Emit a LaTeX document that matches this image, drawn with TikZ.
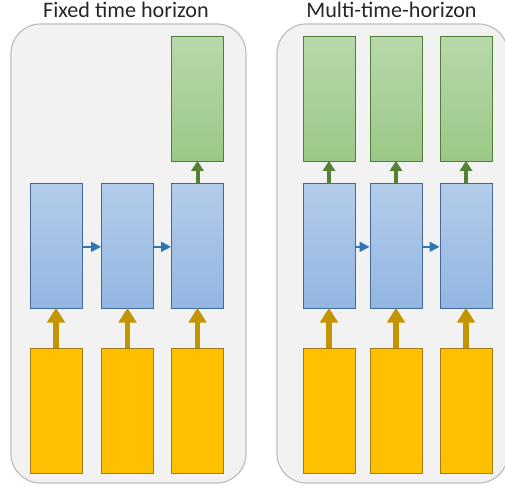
\documentclass[tikz,border=0pt]{standalone}
\usepackage{fontspec}
\setmainfont{Carlito}
\usetikzlibrary{arrows.meta}
\definecolor{panelfill}{HTML}{F2F2F2}
\definecolor{paneldraw}{HTML}{BFBFBF}
\definecolor{bluetop}{HTML}{B4CCEA}
\definecolor{bluebot}{HTML}{92B6E2}
\definecolor{bluedraw}{HTML}{41699A}
\definecolor{greentop}{HTML}{B8D8AA}
\definecolor{greenbot}{HTML}{9BC886}
\definecolor{greendraw}{HTML}{507E36}
\definecolor{orangefill}{HTML}{FFC000}
\definecolor{orangedraw}{HTML}{A37C1A}
\definecolor{orangearrow}{HTML}{C49500}
\definecolor{greenarrow}{HTML}{548235}
\definecolor{bluearrow}{HTML}{2E75B6}
\tikzset{
  panel/.style={draw=paneldraw, fill=panelfill, line width=0.9pt, rounded corners=22pt},
  cell/.style={inner sep=0pt, minimum width=39pt, minimum height=93.75pt, line width=0.75pt},
  bluecell/.style={cell, draw=bluedraw, top color=bluetop, bottom color=bluebot},
  greencell/.style={cell, draw=greendraw, top color=greentop, bottom color=greenbot},
  orangecell/.style={cell, draw=orangedraw, fill=orangefill},
  inarrow/.style={draw=orangearrow, line width=3.8pt, -{Triangle[width=13pt,length=11pt]}, shorten >=-0.5pt},
  outarrow/.style={draw=greenarrow, line width=3pt, -{Triangle[width=9pt,length=7.5pt]}, shorten >=-0.5pt},
  recarrow/.style={draw=bluearrow, line width=1.4pt, -{Triangle[width=7.5pt,length=7.5pt]}},
  title/.style={font=\fontsize{16.6pt}{19pt}\selectfont, text=black!85, anchor=base, inner sep=0pt}
}
\begin{document}
\begin{tikzpicture}[x=0.75pt,y=-0.75pt]
\useasboundingbox (0,0) rectangle (505,486);
\clip (0,0) rectangle (505,486);
% panels
\path[panel] (11,24) rectangle (246,483);
\path[panel] (277,24) rectangle (508,483);
\node[title] (t1) at (126,17) {Fixed time horizon};
\node[title] (t2) at (391.5,17) {Multi-time-horizon};
% left panel
\node[greencell] (lg3) at (197.5,98.5) {};
\node[bluecell] (lb1) at (56,245.5) {};
\node[bluecell] (lb2) at (127.5,245.5) {};
\node[bluecell] (lb3) at (197.5,245.5) {};
\node[orangecell] (lo1) at (56,410.5) {};
\node[orangecell] (lo2) at (127.5,410.5) {};
\node[orangecell] (lo3) at (197.5,410.5) {};
\draw[inarrow] (lo1.north) -- (lb1.south);
\draw[inarrow] (lo2.north) -- (lb2.south);
\draw[inarrow] (lo3.north) -- (lb3.south);
\draw[outarrow] (lb3.north) -- (lg3.south);
\draw[recarrow] ([yshift=-1pt]lb1.east) -- ([yshift=-1pt]lb2.west);
\draw[recarrow] ([yshift=-1pt]lb2.east) -- ([yshift=-1pt]lb3.west);
% right panel
\node[greencell] (rg1) at (329,98.5) {};
\node[greencell] (rg2) at (396,98.5) {};
\node[greencell] (rg3) at (466,98.5) {};
\node[bluecell] (rb1) at (329,245.5) {};
\node[bluecell] (rb2) at (396,245.5) {};
\node[bluecell] (rb3) at (466,245.5) {};
\node[orangecell] (ro1) at (329,410.5) {};
\node[orangecell] (ro2) at (396,410.5) {};
\node[orangecell] (ro3) at (466,410.5) {};
\draw[inarrow] (ro1.north) -- (rb1.south);
\draw[inarrow] (ro2.north) -- (rb2.south);
\draw[inarrow] (ro3.north) -- (rb3.south);
\draw[outarrow] (rb1.north) -- (rg1.south);
\draw[outarrow] (rb2.north) -- (rg2.south);
\draw[outarrow] (rb3.north) -- (rg3.south);
\draw[recarrow] ([yshift=-1pt]rb1.east) -- ([yshift=-1pt]rb2.west);
\draw[recarrow] ([yshift=-1pt]rb2.east) -- ([yshift=-1pt]rb3.west);
\end{tikzpicture}
\end{document}
